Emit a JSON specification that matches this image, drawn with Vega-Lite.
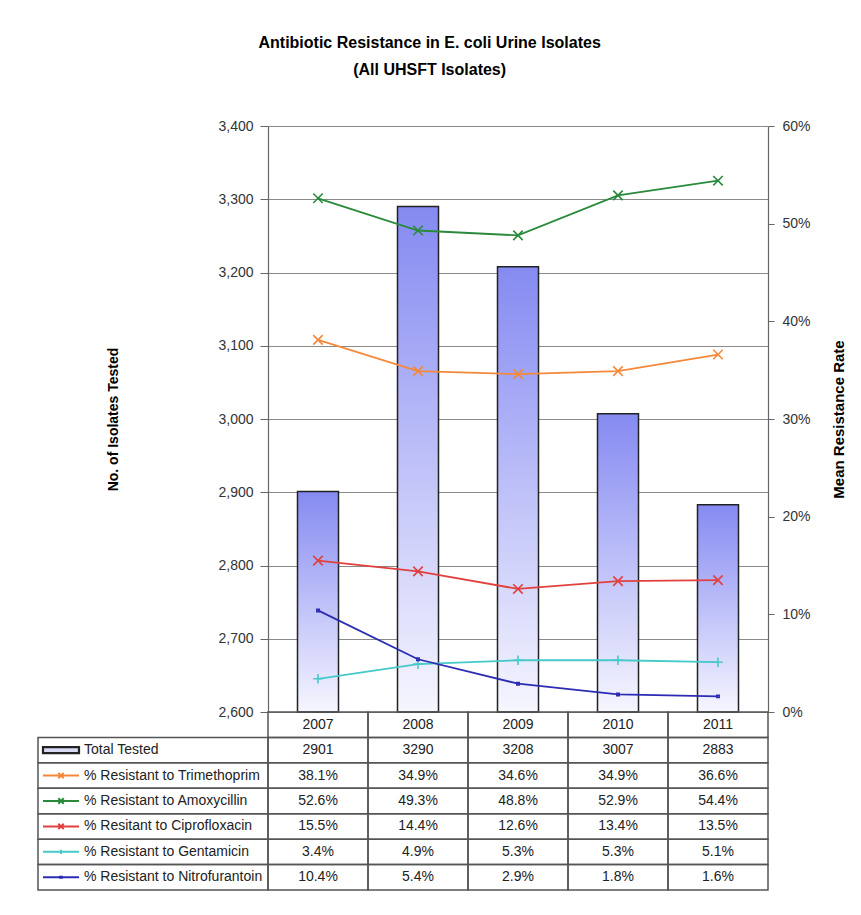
{
  "$schema": "https://vega.github.io/schema/vega-lite/v6.json",
  "padding": {"left": 37, "top": 35, "right": 0, "bottom": 0},
  "background": "white",
  "data": {"values": [
    {"year": "2007", "series": "Total Tested", "value": 2901},
    {"year": "2008", "series": "Total Tested", "value": 3290},
    {"year": "2009", "series": "Total Tested", "value": 3208},
    {"year": "2010", "series": "Total Tested", "value": 3007},
    {"year": "2011", "series": "Total Tested", "value": 2883},
    {"year": "2007", "series": "% Resistant to Trimethoprim", "value": 0.381},
    {"year": "2008", "series": "% Resistant to Trimethoprim", "value": 0.349},
    {"year": "2009", "series": "% Resistant to Trimethoprim", "value": 0.346},
    {"year": "2010", "series": "% Resistant to Trimethoprim", "value": 0.349},
    {"year": "2011", "series": "% Resistant to Trimethoprim", "value": 0.366},
    {"year": "2007", "series": "% Resistant to Amoxycillin", "value": 0.526},
    {"year": "2008", "series": "% Resistant to Amoxycillin", "value": 0.493},
    {"year": "2009", "series": "% Resistant to Amoxycillin", "value": 0.488},
    {"year": "2010", "series": "% Resistant to Amoxycillin", "value": 0.529},
    {"year": "2011", "series": "% Resistant to Amoxycillin", "value": 0.544},
    {"year": "2007", "series": "% Resitant to Ciprofloxacin", "value": 0.155},
    {"year": "2008", "series": "% Resitant to Ciprofloxacin", "value": 0.144},
    {"year": "2009", "series": "% Resitant to Ciprofloxacin", "value": 0.126},
    {"year": "2010", "series": "% Resitant to Ciprofloxacin", "value": 0.134},
    {"year": "2011", "series": "% Resitant to Ciprofloxacin", "value": 0.135},
    {"year": "2007", "series": "% Resistant to Gentamicin", "value": 0.034},
    {"year": "2008", "series": "% Resistant to Gentamicin", "value": 0.049},
    {"year": "2009", "series": "% Resistant to Gentamicin", "value": 0.053},
    {"year": "2010", "series": "% Resistant to Gentamicin", "value": 0.053},
    {"year": "2011", "series": "% Resistant to Gentamicin", "value": 0.051},
    {"year": "2007", "series": "% Resistant to Nitrofurantoin", "value": 0.104},
    {"year": "2008", "series": "% Resistant to Nitrofurantoin", "value": 0.054},
    {"year": "2009", "series": "% Resistant to Nitrofurantoin", "value": 0.029},
    {"year": "2010", "series": "% Resistant to Nitrofurantoin", "value": 0.018},
    {"year": "2011", "series": "% Resistant to Nitrofurantoin", "value": 0.016}
  ]},
  "title": {
    "text": ["Antibiotic Resistance in E. coli Urine Isolates", "(All UHSFT Isolates)"],
    "fontSize": 16, "fontWeight": "bold", "color": "#000", "lineHeight": 27,
    "anchor": "middle", "offset": 41, "dx": -12
  },
  "columns": 2,
  "spacing": 0,
  "bounds": "flush",
  "align": "each",
  "resolve": {"scale": {"x": "independent", "y": "independent", "color": "independent", "shape": "independent"}},
  "concat": [
    {
      "width": 230, "height": 586,
      "mark": {"type": "point", "opacity": 0},
      "encoding": {}
    },
    {
      "width": 500, "height": 586,
      "layer": [
        {
          "transform": [{"filter": "datum.series === 'Total Tested'"}],
          "mark": {"type": "bar", "width": {"band": 0.41}, "stroke": "#222", "strokeWidth": 1.5,
            "fill": {"gradient": "linear", "x1": 0, "y1": 0, "x2": 0, "y2": 1,
              "stops": [{"offset": 0, "color": "#858af1"}, {"offset": 1, "color": "#f6f6ff"}]}},
          "encoding": {
            "x": {"field": "year", "type": "ordinal", "scale": {"paddingInner": 0, "paddingOuter": 0}, "axis": null},
            "y": {"field": "value", "type": "quantitative",
              "scale": {"domain": [2600, 3400], "zero": false, "nice": false},
              "axis": {"values": [2600, 2700, 2800, 2900, 3000, 3100, 3200, 3300, 3400], "format": ",.0f",
                "grid": true, "gridColor": "#8a8a8a", "gridWidth": 1.2,
                "domainColor": "#666", "domainWidth": 1.2, "tickColor": "#666", "tickSize": 8,
                "labelFontSize": 14, "labelColor": "#333", "labelPadding": 7,
                "title": "No. of Isolates Tested", "titleFontSize": 14, "titleFontWeight": "bold",
                "titleColor": "#000", "titlePadding": 97}},
            "y2": {"datum": 2600}
          }
        },
        {
          "transform": [{"filter": "datum.series !== 'Total Tested'"}],
          "encoding": {
            "x": {"field": "year", "type": "ordinal", "scale": {"paddingInner": 0, "paddingOuter": 0}, "axis": null},
            "y": {"field": "value", "type": "quantitative",
              "scale": {"domain": [0, 0.6], "nice": false},
              "axis": {"orient": "right", "values": [0, 0.1, 0.2, 0.3, 0.4, 0.5, 0.6], "format": ".0%",
                "grid": false, "domainColor": "#666", "domainWidth": 1.2, "tickColor": "#666", "tickSize": 6,
                "labelFontSize": 14, "labelColor": "#333", "labelPadding": 8,
                "title": "Mean Resistance Rate", "titleFontSize": 15, "titleFontWeight": "bold",
                "titleColor": "#000", "titleAngle": -90, "titlePadding": 36}},
            "color": {"field": "series", "type": "nominal", "legend": null,
              "scale": {"domain": ["% Resistant to Trimethoprim", "% Resistant to Amoxycillin", "% Resitant to Ciprofloxacin", "% Resistant to Gentamicin", "% Resistant to Nitrofurantoin"],
                "range": ["#f5893a", "#2a8a3c", "#e0413f", "#45c9c9", "#2b2cb3"]}}
          },
          "layer": [
            {"mark": {"type": "line", "strokeWidth": 1.8}},
            {"mark": {"type": "point", "filled": false, "strokeWidth": 1.6, "opacity": 1},
              "encoding": {
                "shape": {"field": "series", "type": "nominal", "legend": null,
                  "scale": {"domain": ["% Resistant to Trimethoprim", "% Resistant to Amoxycillin", "% Resitant to Ciprofloxacin", "% Resistant to Gentamicin", "% Resistant to Nitrofurantoin"],
                    "range": ["M-1,-1L1,1M-1,1L1,-1", "M-1,-1L1,1M-1,1L1,-1", "M-1,-1L1,1M-1,1L1,-1", "M-1,0L1,0M0,-1L0,1", "M-0.25,-0.25L0.25,-0.25L0.25,0.25L-0.25,0.25Z"]}},
                "size": {"value": 90}
              }}
          ]
        }
      ],
      "resolve": {"scale": {"y": "independent"}}
    },
    {
      "width": 230, "height": 178,
      "transform": [{"filter": "datum.year === '2007'"}],
      "encoding": {
        "y": {"field": "series", "type": "nominal",
          "scale": {"type": "band", "domain": ["hdr", "Total Tested", "% Resistant to Trimethoprim", "% Resistant to Amoxycillin", "% Resitant to Ciprofloxacin", "% Resistant to Gentamicin", "% Resistant to Nitrofurantoin"], "paddingInner": 0, "paddingOuter": 0},
          "axis": null}
      },
      "layer": [
        {"mark": {"type": "rect", "fillOpacity": 0, "stroke": "#555", "strokeWidth": 1.5}},
        {"transform": [{"filter": "datum.series !== 'Total Tested'"}],
          "mark": {"type": "point", "filled": false, "strokeWidth": 2, "opacity": 1, "xOffset": -92},
          "encoding": {
            "shape": {"field": "series", "type": "nominal", "legend": null,
              "scale": {"domain": ["% Resistant to Trimethoprim", "% Resistant to Amoxycillin", "% Resitant to Ciprofloxacin", "% Resistant to Gentamicin", "% Resistant to Nitrofurantoin"],
                "range": ["M-1,0L1,0M-0.15,-0.15L0.15,0.15M-0.15,0.15L0.15,-0.15", "M-1,0L1,0M-0.15,-0.15L0.15,0.15M-0.15,0.15L0.15,-0.15", "M-1,0L1,0M-0.15,-0.15L0.15,0.15M-0.15,0.15L0.15,-0.15", "M-1,0L1,0M0,-0.12L0,0.12", "M-1,0L1,0M-0.05,-0.03L0.05,-0.03L0.05,0.03L-0.05,0.03Z"]}},
            "color": {"field": "series", "type": "nominal", "legend": null,
              "scale": {"domain": ["% Resistant to Trimethoprim", "% Resistant to Amoxycillin", "% Resitant to Ciprofloxacin", "% Resistant to Gentamicin", "% Resistant to Nitrofurantoin"],
                "range": ["#f5893a", "#2a8a3c", "#e0413f", "#45c9c9", "#2b2cb3"]}},
            "size": {"value": 1296}
          }},
        {"transform": [{"filter": "datum.series === 'Total Tested'"}],
          "mark": {"type": "point", "filled": true, "fill": "#d9dbf5", "stroke": "#222", "strokeWidth": 2.2, "opacity": 1, "xOffset": -92,
            "shape": "M-1,-0.17L1,-0.17L1,0.17L-1,0.17Z", "size": 1296},
          "encoding": {}},
        {"mark": {"type": "text", "align": "left", "baseline": "middle", "dx": -69, "fontSize": 14, "color": "#222"},
          "encoding": {"text": {"field": "series"}}}
      ]
    },
    {
      "width": 500, "height": 178,
      "encoding": {
        "x": {"field": "year", "type": "ordinal", "scale": {"paddingInner": 0, "paddingOuter": 0}, "axis": null},
        "y": {"field": "series", "type": "nominal",
          "scale": {"type": "band", "domain": ["hdr", "Total Tested", "% Resistant to Trimethoprim", "% Resistant to Amoxycillin", "% Resitant to Ciprofloxacin", "% Resistant to Gentamicin", "% Resistant to Nitrofurantoin"], "paddingInner": 0, "paddingOuter": 0},
          "axis": null}
      },
      "layer": [
        {"mark": {"type": "rect", "fillOpacity": 0, "stroke": "#555", "strokeWidth": 1.5}},
        {"transform": [{"filter": "datum.series === 'Total Tested'"}],
          "mark": {"type": "rect", "fillOpacity": 0, "stroke": "#555", "strokeWidth": 1.5},
          "encoding": {"y": {"datum": "hdr"}}},
        {"transform": [{"filter": "datum.series === 'Total Tested'"}],
          "mark": {"type": "text", "baseline": "middle", "fontSize": 14, "color": "#222"},
          "encoding": {"y": {"datum": "hdr"}, "text": {"field": "year"}}},
        {"transform": [{"filter": "datum.series === 'Total Tested'"}],
          "mark": {"type": "text", "baseline": "middle", "fontSize": 14, "color": "#222"},
          "encoding": {"text": {"field": "value", "type": "quantitative", "format": "d"}}},
        {"transform": [{"filter": "datum.series !== 'Total Tested'"}],
          "mark": {"type": "text", "baseline": "middle", "fontSize": 14, "color": "#222"},
          "encoding": {"text": {"field": "value", "type": "quantitative", "format": ".1%"}}}
      ]
    }
  ],
  "config": {
    "font": "Liberation Sans",
    "view": {"stroke": null}
  }
}
